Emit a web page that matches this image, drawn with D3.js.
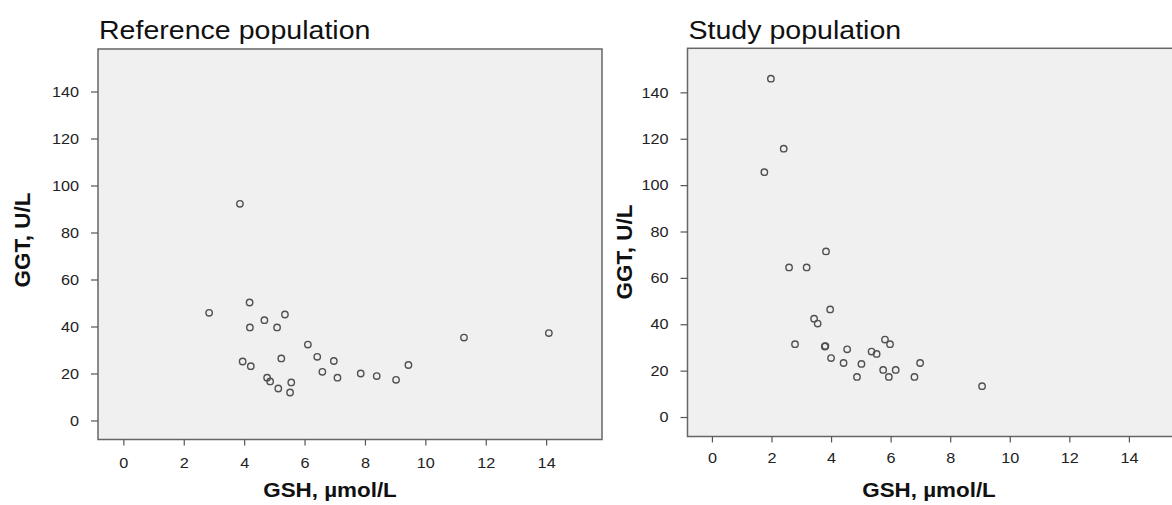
<!DOCTYPE html>
<meta charset="utf-8">
<html>

<head>
  <script src="https://d3js.org/d3.v7.min.js"></script>
  <style>
    body {
      margin: 0;
      background-color: white;
    }

    text {
      font-family: 'Liberation Sans', Arial, sans-serif;
      fill: #111;
    }

    .title {
      font-size: 25.5px;
    }

    .axis-title {
      font-size: 20px;
      font-weight: bold;
    }

    .y-title {
      font-size: 22.5px;
      font-weight: bold;
    }

    .axis text {
      font-size: 14.5px;
      fill: #222;
    }

    .axis path {
      stroke: none;
    }

    .axis line {
      stroke: #555;
      stroke-width: 1.2;
    }

    .frame {
      fill: #f0f0f0;
      stroke: #666;
      stroke-width: 1.5;
    }

    circle {
      fill: none;
      stroke: #505050;
      stroke-width: 1.4;
    }
  </style>
</head>

<body>
  <script>
    //Data
    var refGSH = [2.84, 4.18, 4.67, 5.35, 4.19, 5.09, 6.11, 6.42, 6.97, 5.23, 3.95, 4.22, 6.59,
      7.09, 7.86, 8.39, 4.76, 4.86, 5.56, 5.13, 5.52, 3.86, 9.03, 9.44, 11.28, 14.09];
    var refGGT = [45.8, 50.2, 42.7, 45.1, 39.6, 39.6, 32.3, 27.1, 25.3, 26.4, 25.1, 23.1, 20.7,
      18.2, 20.0, 18.9, 18.2, 16.6, 16.2, 13.6, 11.9, 92.2, 17.3, 23.6, 35.3, 37.2];

    var studyGSH = [1.98, 2.41, 1.76, 3.83, 2.59, 3.18, 3.97, 3.43, 3.55, 2.79, 3.79, 3.81, 4.54,
      5.36, 5.53, 5.81, 5.98, 4.0, 4.42, 5.02, 6.99, 5.75, 6.17, 4.87, 5.94, 6.80, 9.07];
    var studyGGT = [145.9, 115.7, 105.6, 71.4, 64.5, 64.5, 46.4, 42.4, 40.3, 31.4, 30.4, 30.6, 29.2,
      28.2, 27.2, 33.4, 31.4, 25.4, 23.3, 22.9, 23.3, 20.3, 20.3, 17.3, 17.3, 17.3, 13.3];

    var xTicks = [0, 2, 4, 6, 8, 10, 12, 14];
    var yTicks = [0, 20, 40, 60, 80, 100, 120, 140];

    var titles = ["Reference population", "Study population"];
    var xTitle = "GSH, µmol/L";
    var yTitle = "GGT, U/L";

    //Text in the picture is a bit wider than tall
    var stretch = 1.12;

    var svg = d3.select("body")
      .append("svg")
      .attr("width", 1172)
      .attr("height", 505);

    //Panel layouts (pixel boxes)
    var panels = [
      {
        x: refGSH, y: refGGT, title: titles[0],
        left: 98, right: 602, top: 49, bottom: 439.5,
        xDom: [-0.84, 15.85], yDom: [-8.1, 158.1],
        xLabelX: 330, yLabelX: 22, yLabelY: 240, tickPad: 12
      },
      {
        x: studyGSH, y: studyGGT, title: titles[1],
        left: 687.5, right: 1184, top: 48.3, bottom: 436.5,
        xDom: [-0.82, 15.85], yDom: [-8.4, 159],
        xLabelX: 929, yLabelX: 624, yLabelY: 252, tickPad: 10
      }
    ];

    panels.forEach(function(p) {
      var x = d3.scaleLinear().domain(p.xDom).range([p.left, p.right]);
      var y = d3.scaleLinear().domain(p.yDom).range([p.bottom, p.top]);

      //Plot frame
      svg.append("rect")
        .attr("class", "frame")
        .attr("x", p.left)
        .attr("y", p.top)
        .attr("width", p.right - p.left)
        .attr("height", p.bottom - p.top);

      //X axis
      var gx = svg.append("g")
        .attr("class", "axis")
        .attr("transform", `translate(0, ${p.bottom})`)
        .call(d3.axisBottom(x)
          .tickValues(xTicks)
          .tickSize(6)
          .tickPadding(p.tickPad));
      gx.selectAll(".tick text")
        .attr("transform", `scale(${stretch},1)`);

      //Y axis
      var gy = svg.append("g")
        .attr("class", "axis")
        .attr("transform", `translate(${p.left}, 0)`)
        .call(d3.axisLeft(y)
          .tickValues(yTicks)
          .tickSize(7)
          .tickPadding(12));
      gy.selectAll(".tick text")
        .attr("transform", `translate(-19,0) scale(${stretch},1)`)
        .attr("x", 0);

      //Points
      svg.append("g")
        .selectAll("circle")
        .data(p.x)
        .enter()
        .append("circle")
        .attr("cx", function(d) { return x(d); })
        .attr("cy", function(d, i) { return y(p.y[i]); })
        .attr("r", 3.2);

      //Titles
      svg.append("text")
        .attr("class", "title")
        .attr("transform", `translate(${p.left + 1}, 39) scale(${stretch},1)`)
        .text(p.title);

      svg.append("text")
        .attr("class", "axis-title")
        .attr("text-anchor", "middle")
        .attr("transform", `translate(${p.xLabelX}, 497) scale(${stretch},1)`)
        .text(xTitle);

      svg.append("text")
        .attr("class", "y-title")
        .attr("text-anchor", "middle")
        .attr("transform", `translate(${p.yLabelX + 8}, ${p.yLabelY}) rotate(-90)`)
        .text(yTitle);
    });
  </script>
</body>

</html>
